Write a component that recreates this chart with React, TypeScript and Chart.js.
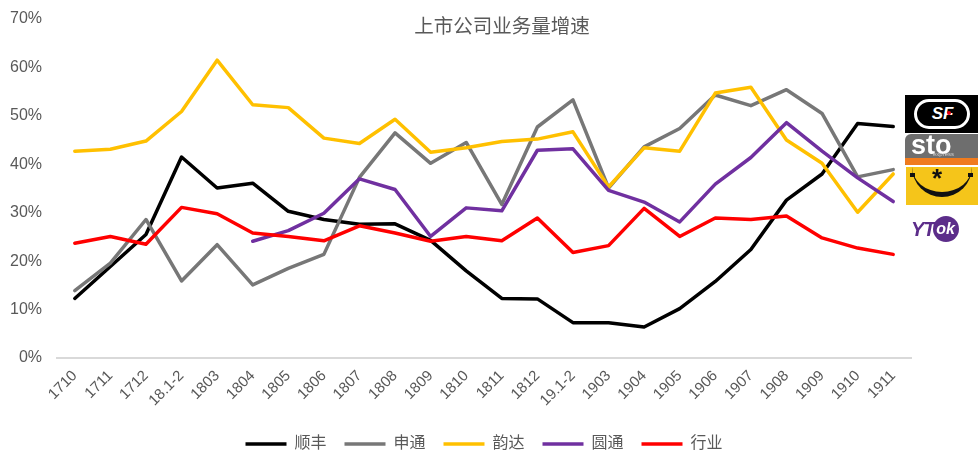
import React, { useEffect, useRef } from 'react';
import { Chart, registerables } from 'chart.js';

Chart.register(...registerables);

const categories = ['1710', '1711', '1712', '18.1-2', '1803', '1804', '1805', '1806', '1807', '1808', '1809', '1810', '1811', '1812', '19.1-2', '1903', '1904', '1905', '1906', '1907', '1908', '1909', '1910', '1911'];

const sfValues = [12.3, 18.9, 25.5, 41.5, 35.1, 36.1, 30.3, 28.6, 27.6, 27.7, 24.3, 18.0, 12.3, 12.2, 7.3, 7.3, 6.4, 10.2, 15.8, 22.4, 32.6, 38.0, 48.4, 47.8];
const stoValues = [13.9, 19.6, 28.6, 15.9, 23.4, 15.1, 18.5, 21.4, 37.3, 46.5, 40.2, 44.5, 31.7, 47.7, 53.3, 35.1, 43.6, 47.4, 54.3, 52.1, 55.4, 50.5, 37.4, 38.9];
const yundaValues = [42.7, 43.1, 44.8, 50.9, 61.5, 52.3, 51.7, 45.4, 44.3, 49.3, 42.5, 43.4, 44.7, 45.2, 46.7, 35.3, 43.4, 42.7, 54.7, 55.9, 45.0, 40.2, 30.1, 38.0];
const ytoValues = [null, null, null, null, null, 24.1, 26.3, 29.9, 37.0, 34.8, 25.1, 31.0, 30.4, 42.9, 43.2, 34.6, 32.2, 28.1, 35.9, 41.4, 48.6, 42.7, 37.2, 32.3];
const industryValues = [23.7, 25.1, 23.5, 31.1, 29.8, 25.8, 25.1, 24.2, 27.3, 25.8, 24.1, 25.1, 24.2, 28.9, 21.8, 23.2, 30.9, 25.1, 28.9, 28.6, 29.3, 24.8, 22.7, 21.4];

const seriesNames = ['顺丰', '申通', '韵达', '圆通', '行业'];
const seriesColors = ['#000000', '#777777', '#ffc000', '#7030a0', '#ff0000'];
const yTickMax = 70;
const yTickStep = 10;

const FONT = "'Liberation Sans', 'Noto Sans CJK SC', sans-serif";

export default function App() {
  const ref = useRef<HTMLCanvasElement>(null);

  useEffect(() => {
    const all = [sfValues, stoValues, yundaValues, ytoValues, industryValues];
    const chart = new Chart(ref.current!, {
      type: 'line',
      data: {
        labels: categories,
        datasets: all.map((d, i) => ({
          label: seriesNames[i],
          data: d,
          borderColor: seriesColors[i],
          backgroundColor: seriesColors[i],
          borderWidth: 3.5,
          pointRadius: 0,
          pointHoverRadius: 0,
          tension: 0,
          borderJoinStyle: 'round',
          borderCapStyle: 'round',
          spanGaps: false,
          order: 5 - i,
        })),
      },
      options: {
        responsive: false,
        animation: false,
        devicePixelRatio: 1,
        layout: { padding: { left: 0, right: 67, top: 19, bottom: 0 } },
        plugins: {
          tooltip: { enabled: false },
          title: { display: false },
          legend: {
            position: 'bottom',
            fullSize: false,
            maxHeight: 37,
            labels: {
              usePointStyle: true,
              pointStyle: 'line',
              pointStyleWidth: 41,
              color: '#595959',
              font: { size: 16, family: FONT },
              padding: 18,
              sort: (a: any, b: any) => a.datasetIndex - b.datasetIndex,
            },
          },
        },
        scales: {
          x: {
            offset: true,
            grid: { display: false, drawTicks: false, offset: true },
            border: { display: true, color: '#d9d9d9', width: 2 },
            ticks: {
              autoSkip: false,
              minRotation: 45,
              maxRotation: 45,
              color: '#595959',
              font: { size: 15, family: FONT },
              padding: 9,
            },
            afterFit: (s: any) => { s.height = 60; s.paddingLeft = 0; s.paddingRight = 0; },
          },
          y: {
            min: 0,
            max: yTickMax,
            grid: { display: false, drawTicks: false },
            border: { display: false },
            ticks: {
              stepSize: yTickStep,
              color: '#595959',
              font: { size: 16, family: FONT },
              padding: 15,
              callback: (v: any) => v + '%',
            },
            afterFit: (s: any) => { s.width = 57; s.paddingTop = 0; s.paddingBottom = 0; },
          },
        },
      },
    });
    return () => chart.destroy();
  }, []);

  return (
    <div style={{ position: 'fixed', left: 0, top: 0, width: 978, height: 455, background: '#fff', overflow: 'hidden' }}>
      <canvas ref={ref} width={978} height={455} style={{ display: 'block', width: 978, height: 455 }} />
      <div style={{ position: 'absolute', left: 392, top: 12, width: 220, textAlign: 'center', fontFamily: "'Noto Sans CJK SC', sans-serif", fontSize: 19.5, lineHeight: '26px', color: '#595959' }}>上市公司业务量增速</div>
      {/* SF logo */}
      <div style={{ position: 'absolute', left: 905, top: 95, width: 73, height: 38, background: '#000', display: 'flex', alignItems: 'center', justifyContent: 'center' }}>
        <div style={{ width: 56, height: 30, border: '3px solid #fff', borderRadius: 16, boxSizing: 'border-box', display: 'flex', alignItems: 'center', justifyContent: 'center', color: '#fff', fontFamily: "'Liberation Sans', sans-serif", fontWeight: 'bold', fontStyle: 'italic', fontSize: 17, lineHeight: '20px' }}>
          SF<span style={{ display: 'inline-block', width: 4, height: 4, background: '#e60012', borderRadius: 2, marginLeft: -6, marginTop: -2 }} />
        </div>
      </div>
      {/* STO logo */}
      <div style={{ position: 'absolute', left: 905, top: 134, width: 73, height: 31, background: '#6e6e6e', borderRadius: '6px 0 0 0', overflow: 'hidden' }}>
        <div style={{ position: 'absolute', left: 6, top: -4, color: '#fff', fontFamily: "'Liberation Sans', sans-serif", fontWeight: 'bold', fontSize: 27, lineHeight: '30px' }}>sto</div>
        <div style={{ position: 'absolute', left: 28, top: 17, color: '#cfcfcf', fontFamily: "'Liberation Sans', sans-serif", fontSize: 6, lineHeight: '7px' }}>express</div>
        <div style={{ position: 'absolute', left: 0, top: 24, width: 90, height: 14, background: '#f07b1d', borderRadius: '0 0 0 10px' }} />
      </div>
      {/* Yunda logo */}
      <div style={{ position: 'absolute', left: 906, top: 167, width: 72, height: 38, background: '#f5c51a', overflow: 'hidden' }}>
        <div style={{ position: 'absolute', left: 4, top: 6, width: 5, height: 4, background: '#111' }} />
        <div style={{ position: 'absolute', left: 62, top: 6, width: 5, height: 4, background: '#111' }} />
        <div style={{ position: 'absolute', left: 26, top: -2, color: '#111', fontFamily: "'Liberation Sans', sans-serif", fontWeight: 'bold', fontSize: 26, lineHeight: '26px' }}>*</div>
        <div style={{ position: 'absolute', left: 6, top: -8, width: 60, height: 38, borderBottom: '5px solid #111', borderRadius: '0 0 30px 30px', boxSizing: 'border-box' }} />
      </div>
      {/* YTO logo */}
      <div style={{ position: 'absolute', left: 911, top: 215, width: 64, height: 28, display: 'flex', alignItems: 'center' }}>
        <span style={{ color: '#5c2d8a', fontFamily: "'Liberation Sans', sans-serif", fontWeight: 'bold', fontStyle: 'italic', fontSize: 20, lineHeight: '24px', letterSpacing: -1 }}>YT</span>
        <span style={{ display: 'inline-block', width: 26, height: 26, borderRadius: 13, background: '#5c2d8a', color: '#fff', textAlign: 'center', fontFamily: "'Liberation Sans', sans-serif", fontWeight: 'bold', fontStyle: 'italic', fontSize: 16, lineHeight: '26px', marginLeft: -2 }}>ok</span>
      </div>
    </div>
  );
}
